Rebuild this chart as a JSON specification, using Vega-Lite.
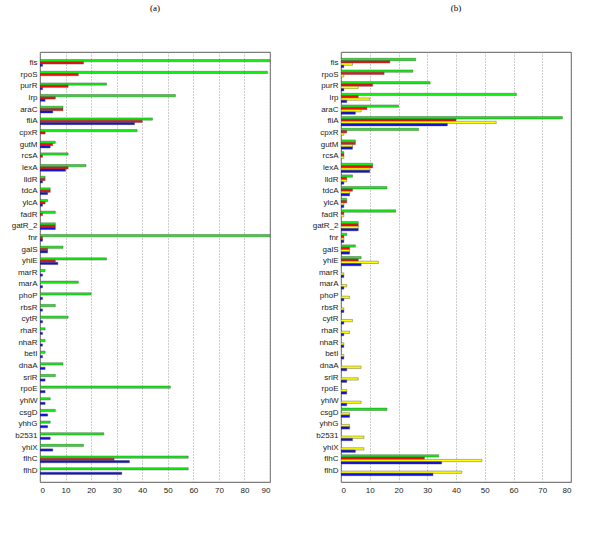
{
 "$schema": "https://vega.github.io/schema/vega-lite/v6.json",
 "padding": {"left": 10, "top": 3, "right": 5, "bottom": 0},
 "background": "white",
 "config": {
  "view": {"stroke": "#333", "strokeWidth": 0.8},
  "axis": {"labelFont": "Liberation Sans", "labelFontSize": 8, "labelColor": "#222", "title": null, "domain": false},
  "title": {"font": "Liberation Serif", "fontSize": 9, "fontWeight": "normal", "color": "#000"}
 },
 "datasets": {
  "a": [
   {"gene":"fis","series":"green","value":90},{"gene":"fis","series":"red","value":17},{"gene":"fis","series":"blue","value":1},
   {"gene":"rpoS","series":"green","value":89},{"gene":"rpoS","series":"red","value":15},
   {"gene":"purR","series":"green","value":26},{"gene":"purR","series":"red","value":11},{"gene":"purR","series":"blue","value":1},
   {"gene":"lrp","series":"green","value":53},{"gene":"lrp","series":"red","value":6},{"gene":"lrp","series":"blue","value":2},
   {"gene":"araC","series":"green","value":9},{"gene":"araC","series":"red","value":9},{"gene":"araC","series":"blue","value":5},
   {"gene":"fliA","series":"green","value":44},{"gene":"fliA","series":"red","value":40},{"gene":"fliA","series":"blue","value":37},
   {"gene":"cpxR","series":"green","value":38},{"gene":"cpxR","series":"red","value":2},
   {"gene":"gutM","series":"green","value":6},{"gene":"gutM","series":"red","value":5},{"gene":"gutM","series":"blue","value":4},
   {"gene":"rcsA","series":"green","value":11},{"gene":"rcsA","series":"red","value":1},
   {"gene":"lexA","series":"green","value":18},{"gene":"lexA","series":"red","value":11},{"gene":"lexA","series":"blue","value":10},
   {"gene":"lldR","series":"green","value":2},{"gene":"lldR","series":"red","value":2},{"gene":"lldR","series":"blue","value":1},
   {"gene":"tdcA","series":"green","value":4},{"gene":"tdcA","series":"red","value":4},{"gene":"tdcA","series":"blue","value":3},
   {"gene":"ylcA","series":"green","value":3},{"gene":"ylcA","series":"red","value":2},{"gene":"ylcA","series":"blue","value":1},
   {"gene":"fadR","series":"green","value":6},{"gene":"fadR","series":"red","value":1},
   {"gene":"gatR_2","series":"green","value":6},{"gene":"gatR_2","series":"red","value":6},{"gene":"gatR_2","series":"blue","value":6},
   {"gene":"fnr","series":"green","value":90},{"gene":"fnr","series":"red","value":1},{"gene":"fnr","series":"blue","value":1},
   {"gene":"galS","series":"green","value":9},{"gene":"galS","series":"red","value":3},{"gene":"galS","series":"blue","value":3},
   {"gene":"yhiE","series":"green","value":26},{"gene":"yhiE","series":"red","value":6},{"gene":"yhiE","series":"blue","value":7},
   {"gene":"marR","series":"green","value":2},{"gene":"marR","series":"blue","value":1},
   {"gene":"marA","series":"green","value":15},{"gene":"marA","series":"blue","value":1},
   {"gene":"phoP","series":"green","value":20},{"gene":"phoP","series":"blue","value":1},
   {"gene":"rbsR","series":"green","value":6},{"gene":"rbsR","series":"blue","value":1},
   {"gene":"cytR","series":"green","value":11},{"gene":"cytR","series":"blue","value":1},
   {"gene":"rhaR","series":"green","value":2},{"gene":"rhaR","series":"blue","value":1},
   {"gene":"nhaR","series":"green","value":2},{"gene":"nhaR","series":"blue","value":1},
   {"gene":"betI","series":"green","value":2},{"gene":"betI","series":"blue","value":1},
   {"gene":"dnaA","series":"green","value":9},{"gene":"dnaA","series":"blue","value":2},
   {"gene":"srlR","series":"green","value":6},{"gene":"srlR","series":"blue","value":2},
   {"gene":"rpoE","series":"green","value":51},{"gene":"rpoE","series":"blue","value":2},
   {"gene":"yhiW","series":"green","value":4},{"gene":"yhiW","series":"blue","value":2},
   {"gene":"csgD","series":"green","value":6},{"gene":"csgD","series":"blue","value":3},
   {"gene":"yhhG","series":"green","value":4},{"gene":"yhhG","series":"blue","value":3},
   {"gene":"b2531","series":"green","value":25},{"gene":"b2531","series":"blue","value":4},
   {"gene":"yhiX","series":"green","value":17},{"gene":"yhiX","series":"blue","value":5},
   {"gene":"flhC","series":"green","value":58},{"gene":"flhC","series":"red","value":29},{"gene":"flhC","series":"blue","value":35},
   {"gene":"flhD","series":"green","value":58},{"gene":"flhD","series":"blue","value":32}
  ],
  "b": [
   {"gene":"fis","series":"green","value":26},{"gene":"fis","series":"red","value":17},{"gene":"fis","series":"yellow","value":4},{"gene":"fis","series":"blue","value":1},
   {"gene":"rpoS","series":"green","value":25},{"gene":"rpoS","series":"red","value":15},{"gene":"rpoS","series":"yellow","value":1},
   {"gene":"purR","series":"green","value":31},{"gene":"purR","series":"red","value":11},{"gene":"purR","series":"yellow","value":6},{"gene":"purR","series":"blue","value":1},
   {"gene":"lrp","series":"green","value":61},{"gene":"lrp","series":"red","value":6},{"gene":"lrp","series":"yellow","value":10},{"gene":"lrp","series":"blue","value":2},
   {"gene":"araC","series":"green","value":20},{"gene":"araC","series":"red","value":9},{"gene":"araC","series":"yellow","value":7},{"gene":"araC","series":"blue","value":5},
   {"gene":"fliA","series":"green","value":77},{"gene":"fliA","series":"red","value":40},{"gene":"fliA","series":"yellow","value":54},{"gene":"fliA","series":"blue","value":37},
   {"gene":"cpxR","series":"green","value":27},{"gene":"cpxR","series":"red","value":2},{"gene":"cpxR","series":"yellow","value":1},
   {"gene":"gutM","series":"green","value":5},{"gene":"gutM","series":"red","value":5},{"gene":"gutM","series":"yellow","value":4},{"gene":"gutM","series":"blue","value":4},
   {"gene":"rcsA","series":"green","value":1},{"gene":"rcsA","series":"red","value":1},{"gene":"rcsA","series":"yellow","value":1},
   {"gene":"lexA","series":"green","value":11},{"gene":"lexA","series":"red","value":11},{"gene":"lexA","series":"yellow","value":10},{"gene":"lexA","series":"blue","value":10},
   {"gene":"lldR","series":"green","value":4},{"gene":"lldR","series":"red","value":2},{"gene":"lldR","series":"yellow","value":2},{"gene":"lldR","series":"blue","value":1},
   {"gene":"tdcA","series":"green","value":16},{"gene":"tdcA","series":"red","value":4},{"gene":"tdcA","series":"yellow","value":3},{"gene":"tdcA","series":"blue","value":3},
   {"gene":"ylcA","series":"green","value":2},{"gene":"ylcA","series":"red","value":2},{"gene":"ylcA","series":"yellow","value":1},{"gene":"ylcA","series":"blue","value":1},
   {"gene":"fadR","series":"green","value":19},{"gene":"fadR","series":"red","value":1},{"gene":"fadR","series":"yellow","value":1},
   {"gene":"gatR_2","series":"green","value":6},{"gene":"gatR_2","series":"red","value":6},{"gene":"gatR_2","series":"yellow","value":6},{"gene":"gatR_2","series":"blue","value":6},
   {"gene":"fnr","series":"green","value":2},{"gene":"fnr","series":"red","value":1},{"gene":"fnr","series":"yellow","value":1},{"gene":"fnr","series":"blue","value":1},
   {"gene":"galS","series":"green","value":5},{"gene":"galS","series":"red","value":3},{"gene":"galS","series":"yellow","value":3},{"gene":"galS","series":"blue","value":3},
   {"gene":"yhiE","series":"green","value":7},{"gene":"yhiE","series":"red","value":6},{"gene":"yhiE","series":"yellow","value":13},{"gene":"yhiE","series":"blue","value":7},
   {"gene":"marR","series":"yellow","value":1},{"gene":"marR","series":"blue","value":1},
   {"gene":"marA","series":"yellow","value":2},{"gene":"marA","series":"blue","value":1},
   {"gene":"phoP","series":"yellow","value":3},{"gene":"phoP","series":"blue","value":1},
   {"gene":"rbsR","series":"yellow","value":1},{"gene":"rbsR","series":"blue","value":1},
   {"gene":"cytR","series":"yellow","value":4},{"gene":"cytR","series":"blue","value":1},
   {"gene":"rhaR","series":"yellow","value":3},{"gene":"rhaR","series":"blue","value":1},
   {"gene":"nhaR","series":"yellow","value":1},{"gene":"nhaR","series":"blue","value":1},
   {"gene":"betI","series":"yellow","value":1},{"gene":"betI","series":"blue","value":1},
   {"gene":"dnaA","series":"yellow","value":7},{"gene":"dnaA","series":"blue","value":2},
   {"gene":"srlR","series":"yellow","value":6},{"gene":"srlR","series":"blue","value":2},
   {"gene":"rpoE","series":"yellow","value":2},{"gene":"rpoE","series":"blue","value":2},
   {"gene":"yhiW","series":"yellow","value":7},{"gene":"yhiW","series":"blue","value":2},
   {"gene":"csgD","series":"green","value":16},{"gene":"csgD","series":"yellow","value":3},{"gene":"csgD","series":"blue","value":3},
   {"gene":"yhhG","series":"yellow","value":3},{"gene":"yhhG","series":"blue","value":3},
   {"gene":"b2531","series":"yellow","value":8},{"gene":"b2531","series":"blue","value":4},
   {"gene":"yhiX","series":"yellow","value":8},{"gene":"yhiX","series":"blue","value":5},
   {"gene":"flhC","series":"green","value":34},{"gene":"flhC","series":"red","value":29},{"gene":"flhC","series":"yellow","value":49},{"gene":"flhC","series":"blue","value":35},
   {"gene":"flhD","series":"yellow","value":42},{"gene":"flhD","series":"blue","value":32}
  ]
 },
 "spacing": 40,
 "resolve": {"scale": {"x": "independent", "y": "independent", "yOffset": "independent", "color": "shared"}},
 "hconcat": [
  {
   "title": {"text": "(a)", "offset": 39},
   "width": 230,
   "height": 430,
   "data": {"name": "a"},
   "mark": {"type": "bar", "stroke": "#444", "strokeWidth": 0.4, "clip": true},
   "encoding": {
    "y": {"field": "gene", "type": "nominal", "sort": null, "scale": {"paddingInner": 0.42, "paddingOuter": 0.65}, "axis": {"ticks": false, "labelPadding": 3}},
    "yOffset": {"field": "series", "type": "nominal", "scale": {"domain": ["green", "red", "blue"]}},
    "x": {"field": "value", "type": "quantitative", "scale": {"domain": [0, 90], "nice": false}, "axis": {"values": [0, 10, 20, 30, 40, 50, 60, 70, 80, 90], "grid": true, "gridDash": [1, 2], "gridColor": "#999", "ticks": false, "labelPadding": 4}},
    "color": {"field": "series", "type": "nominal", "scale": {"domain": ["green", "red", "yellow", "blue"], "range": ["#11f011", "#f01010", "#ffff00", "#1010e0"]}, "legend": null}
   }
  },
  {
   "title": {"text": "(b)", "offset": 39},
   "width": 230,
   "height": 430,
   "data": {"name": "b"},
   "mark": {"type": "bar", "stroke": "#444", "strokeWidth": 0.4, "clip": true},
   "encoding": {
    "y": {"field": "gene", "type": "nominal", "sort": null, "scale": {"paddingInner": 0.2, "paddingOuter": 0.54}, "axis": {"ticks": false, "labelPadding": 3}},
    "yOffset": {"field": "series", "type": "nominal", "scale": {"domain": ["green", "red", "yellow", "blue"]}},
    "x": {"field": "value", "type": "quantitative", "scale": {"domain": [0, 80], "nice": false}, "axis": {"values": [0, 10, 20, 30, 40, 50, 60, 70, 80], "grid": true, "gridDash": [1, 2], "gridColor": "#999", "ticks": false, "labelPadding": 4}},
    "color": {"field": "series", "type": "nominal", "legend": null}
   }
  }
 ]
}
